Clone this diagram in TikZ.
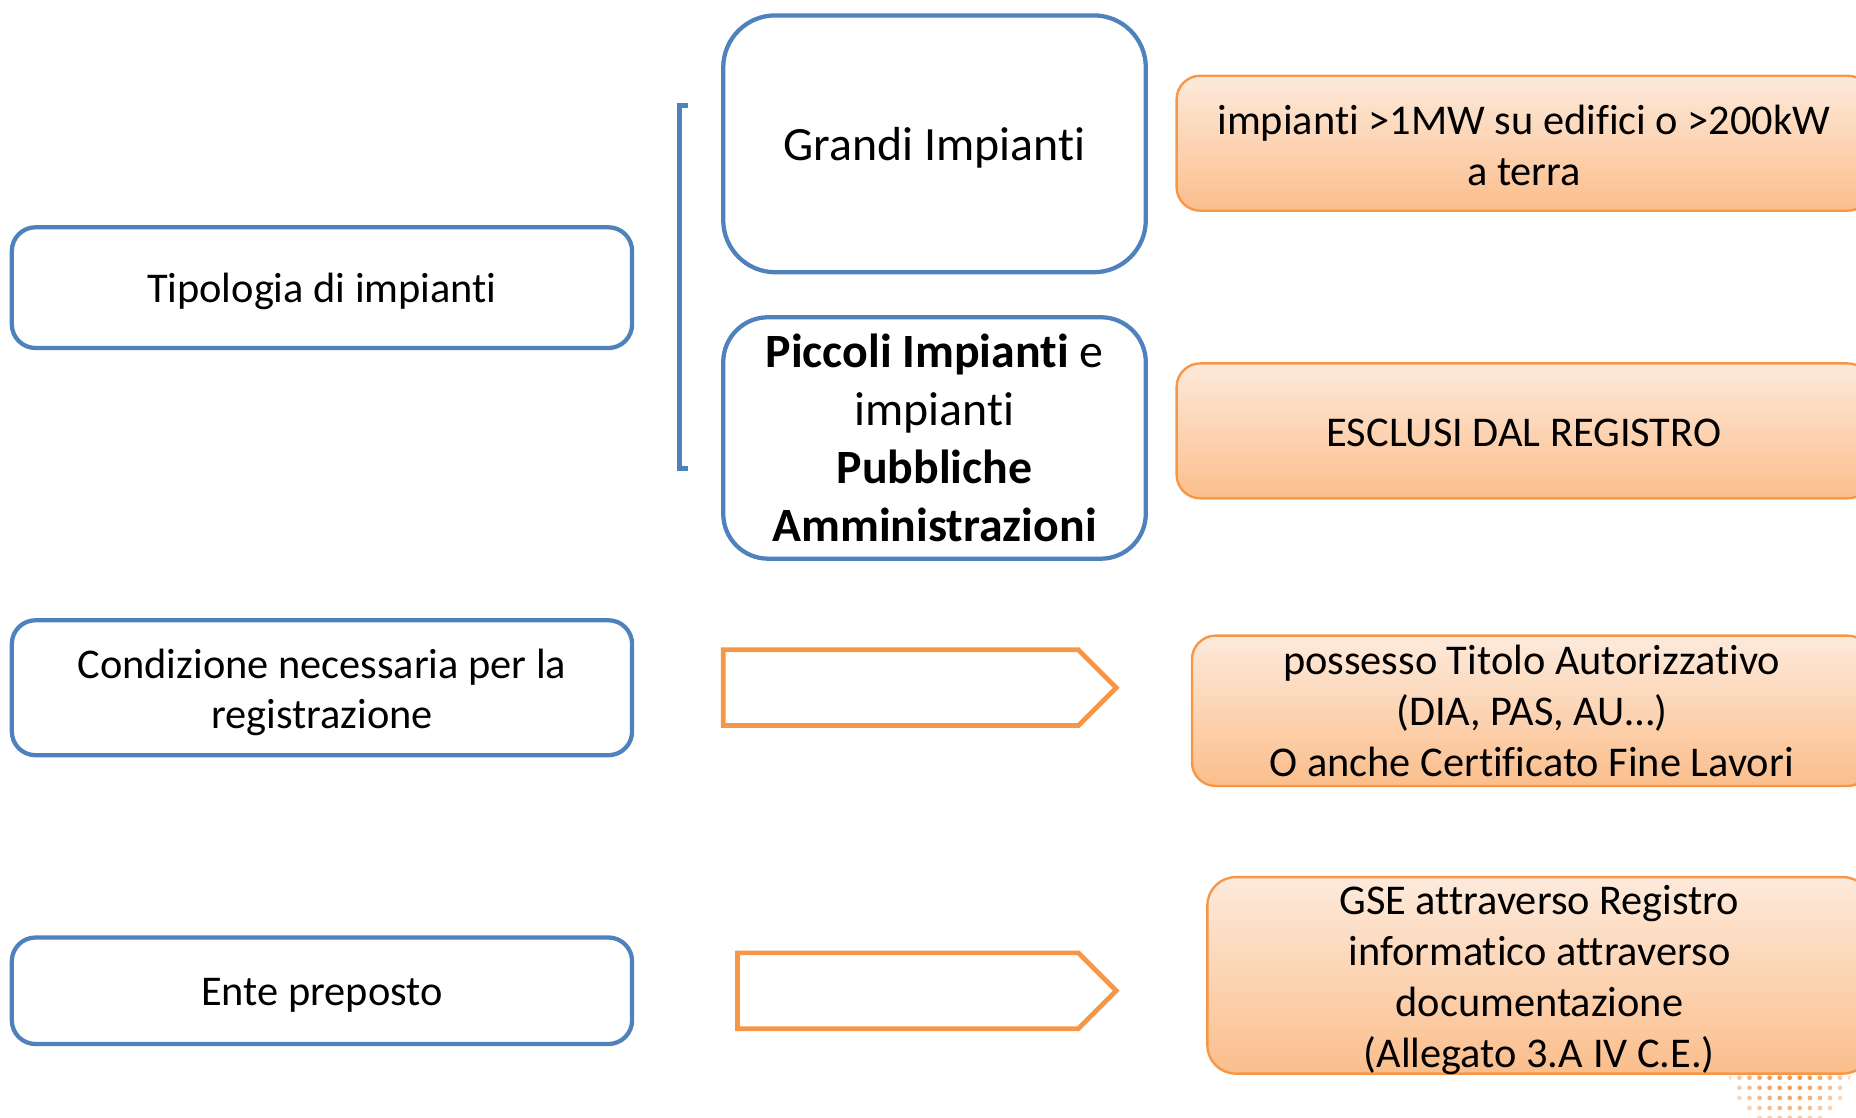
\documentclass[tikz,border=0pt]{standalone}
\usepackage{fontspec}
\setmainfont{Carlito}[Ligatures={NoCommon}]
\definecolor{bl}{HTML}{4F81BD}
\definecolor{orl}{HTML}{F79646}
\definecolor{ortop}{HTML}{FDEADB}
\definecolor{orbot}{HTML}{FBBE8C}
\begin{document}
\begin{tikzpicture}[x=0.5pt,y=-0.5pt,
  bluebox/.style={draw=bl, line width=1.8pt, rounded corners=10pt, fill=white, inner sep=0pt},
  orbox/.style={draw=orl, line width=1pt, rounded corners=10pt, top color=ortop, bottom color=orbot, inner sep=0pt},
  txt/.style={align=center, inner sep=0pt, font=\fontsize{17.9}{21.5}\selectfont},
  bigtxt/.style={align=center, inner sep=0pt, font=\fontsize{20.2}{24.5}\selectfont},
  arrowshape/.style={draw=orl, line width=2pt, line join=miter},
  brack/.style={draw=bl, line width=2pt}
]
\useasboundingbox (0,0) rectangle (1568,944);
\clip (0,0) rectangle (1568,944);

% left boxes
\node[bluebox, minimum width=262pt, minimum height=51pt] (tip) at (272,243) {};
\node[txt] (tipt) at ([yshift=-1.5pt]tip.center) {Tipologia di impianti};
\node[bluebox, minimum width=262pt, minimum height=57pt] (cond) at (272,581) {};
\node[txt] (condt) at ([yshift=-2pt]cond.center) {Condizione necessaria per la\\registrazione};
\node[bluebox, minimum width=262pt, minimum height=45pt] (ente) at (272,837) {};
\node[txt] (entet) at ([yshift=-2pt]ente.center) {Ente preposto};

% bracket
\coordinate (bt) at (581,89);
\coordinate (bb) at (581,396);
\draw[brack] (bt) -- (574,89) -- (574,396) -- (bb);

% middle boxes
\node[bluebox, rounded corners=22pt, minimum width=178.5pt, minimum height=108.5pt] (grandi) at (789.5,121.5) {};
\node[bigtxt] (grandit) at ([yshift=-1.5pt]grandi.center) {Grandi Impianti};
\node[bluebox, rounded corners=19pt, minimum width=178.5pt, minimum height=102pt] (piccoli) at (789.5,370) {};
\node[bigtxt] (piccolit) at (piccoli.center) {\textbf{Piccoli Impianti} e\\impianti\\\textbf{Pubbliche}\\\textbf{Amministrazioni}};

% arrows
\draw[arrowshape] (611,549) -- (911,549) -- (943,581) -- (911,613) -- (611,613) -- cycle;
\draw[arrowshape] (623,805) -- (911,805) -- (943,837) -- (911,869) -- (623,869) -- cycle;

% decorative dotted sphere
\begin{scope}
  \clip (1512,902) circle (26pt);
  \foreach \i in {-7,...,7}{
    \foreach \j in {-7,...,7}{
      \pgfmathsetmacro{\dd}{min(1,sqrt((\i*\i+\j*\j))/6.2)}
      \pgfmathsetmacro{\op}{max(0.3,1-0.7*\dd*\dd)}
      \fill[orl, opacity=\op] (1512+\i*8.5, 902+\j*8.5) circle (1pt);
    }
  }
\end{scope}

% orange boxes
\node[orbox, minimum width=293.5pt, minimum height=57pt] (o1) at (1287.5,121) {};
\node[txt] (o1t) at ([yshift=-1pt]o1.center) {impianti >1MW su edifici o >200kW\\a terra};
\node[orbox, minimum width=293.5pt, minimum height=57pt] (o2) at (1287.5,364) {};
\node[txt] (o2t) at ([yshift=-1pt]o2.center) {ESCLUSI DAL REGISTRO};
\node[orbox, minimum width=287pt, minimum height=63.5pt] (o3) at (1294,600.5) {};
\node[txt] (o3t) at (o3.center) {possesso Titolo Autorizzativo\\(DIA, PAS, AU…)\\O anche Certificato Fine Lavori};
\node[orbox, rounded corners=12pt, minimum width=280.5pt, minimum height=83pt] (o4) at (1300.5,824) {};
\node[txt] (o4t) at ([yshift=-2pt]o4.center) {GSE attraverso Registro\\informatico attraverso\\documentazione\\(Allegato 3.A IV C.E.)};
\end{tikzpicture}
\end{document}
